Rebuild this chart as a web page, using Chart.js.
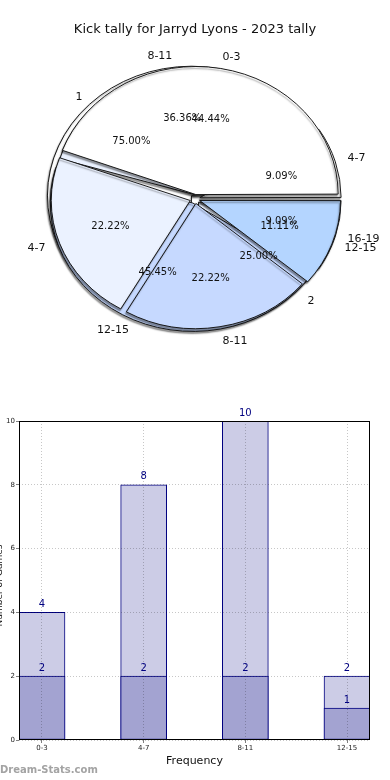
<!DOCTYPE html>
<html><head><meta charset="utf-8">
<script src="https://cdn.jsdelivr.net/npm/chart.js@4.4.0/dist/chart.umd.min.js"></script>
<style>
html,body{margin:0;padding:0;background:#fff;width:390px;height:780px;overflow:hidden;position:relative;font-family:'DejaVu Sans',sans-serif;}
.pie{position:absolute;left:0;top:0;}
#bar{position:absolute;left:0;top:380px;}
#wm{position:absolute;left:0;top:764px;font:bold 10px 'DejaVu Sans';color:#a3a3a3;line-height:12px;}
</style></head><body>
<canvas id="pieC" class="pie" width="390" height="398"></canvas>
<canvas id="pieB" class="pie" width="390" height="398"></canvas>
<canvas id="pieA" class="pie" width="390" height="398"></canvas>
<canvas id="bar" width="390" height="400"></canvas>
<div id="wm">Dream-Stats.com</div>
<script>
const chartTitle = 'Kick tally for Jarryd Lyons - 2023 tally';
const pieLabelsA = ['0-3','4-7','8-11','12-15'];
const pieValuesA = [4,2,2,1];
const pieLabelsB = ['4-7','8-11','12-15','16-19'];
const pieValuesB = [1,4,5,1];
const pieLabelsC = ['1','2'];
const pieValuesC = [3,1];
const sliceColors = ['#ffffff','#ebf2ff','#c6d9ff','#b4d5ff'];
const barCategories = ['0-3','4-7','8-11','12-15'];
const barOuter = [4,8,10,2];
const barInner = [2,2,2,1];
const yTicks = [0,2,4,6,8,10];
const xTitle = 'Frequency';
const yTitle = 'Number of Games';
const SQUASH = 0.9;
const FONT = '"DejaVu Sans"';

const squashPlugin = {
  id:'squash',
  beforeDatasetsDraw(chart){
    const a = chart.getDatasetMeta(0).data[0];
    const ctx = chart.ctx;
    ctx.save();
    ctx.translate(a.x, a.y); ctx.scale(1, SQUASH); ctx.translate(-a.x, -a.y);
    ctx.shadowColor = 'rgba(0,0,0,0.4)';
    ctx.shadowOffsetX = -1; ctx.shadowOffsetY = 2; ctx.shadowBlur = 1.5;
  },
  afterDatasetsDraw(chart){ chart.ctx.restore(); }
};

function makePie(id, labels, values, extra){
  return new Chart(document.getElementById(id), {
    type:'pie',
    data:{labels: labels.slice().reverse(),
      datasets:[{data: values.slice().reverse(),
        backgroundColor: sliceColors.slice(0, values.length).reverse(),
        borderColor:'#111', borderWidth:1, offset:20}]},
    options:{responsive:false, animation:false, events:[], rotation:90, radius:139,
      layout:{padding:0},
      plugins:{legend:{display:false}, tooltip:{enabled:false}, title:{display:false}}},
    plugins: extra ? [squashPlugin, extra] : [squashPlugin]
  });
}

function drawPieLabels(ctx, chart){
  const meta = chart.getDatasetMeta(0);
  const ds = chart.data.datasets[0].data;
  const total = ds.reduce((s,v)=>s+v,0);
  ctx.fillStyle = '#111';
  ctx.textBaseline = 'middle';
  meta.data.forEach((arc,i)=>{
    const mid = (arc.startAngle + arc.endAngle)/2;
    const c = Math.cos(mid), s = Math.sin(mid);
    ctx.font = '10px ' + FONT; ctx.textAlign = 'center';
    ctx.fillText((ds[i]/total*100).toFixed(2)+'%', arc.x + 90*c, arc.y + 90*SQUASH*s);
    ctx.font = '11px ' + FONT; ctx.textAlign = c >= 0 ? 'left' : 'right';
    ctx.fillText(chart.data.labels[i], arc.x + 159*c, arc.y + 160*SQUASH*s);
  });
}

const chartC = makePie('pieC', pieLabelsC, pieValuesC);
const chartB = makePie('pieB', pieLabelsB, pieValuesB);
const labelPlugin = {
  id:'pieLabels',
  afterDraw(chart){
    const ctx = chart.ctx;
    ctx.save();
    ctx.fillStyle = '#111';
    ctx.font = '13px ' + FONT; ctx.textAlign = 'center'; ctx.textBaseline = 'middle';
    ctx.fillText(chartTitle, 195, 30);
    drawPieLabels(ctx, chartC);
    drawPieLabels(ctx, chartB);
    drawPieLabels(ctx, chart);
    ctx.restore();
  }
};
const chartA = makePie('pieA', pieLabelsA, pieValuesA, labelPlugin);

const barDecor = {
  id:'barDecor',
  afterDraw(chart){
    const ctx = chart.ctx, a = chart.chartArea;
    ctx.save();
    ctx.strokeStyle = '#000'; ctx.lineWidth = 1;
    ctx.strokeRect(Math.round(a.left)+0.5, Math.round(a.top)+0.5, Math.round(a.right-a.left)-1, Math.round(a.bottom-a.top)-1);
    ctx.fillStyle = '#000080'; ctx.font = '10px ' + FONT; ctx.textAlign = 'center'; ctx.textBaseline = 'middle';
    chart.data.datasets.forEach((d, di)=>{
      chart.getDatasetMeta(di).data.forEach((el, i)=>{
        ctx.fillText(String(d.data[i].y), el.x, el.y - 8);
      });
    });
    ctx.fillStyle = '#111'; ctx.font = '11px ' + FONT;
    ctx.fillText(xTitle, (a.left + a.right)/2, 381);
    ctx.save();
    ctx.translate(1.5, (a.top + a.bottom)/2 + 5);
    ctx.rotate(-Math.PI/2);
    ctx.font = '9px ' + FONT; ctx.textBaseline = 'alphabetic';
    ctx.fillText(yTitle, 0, 0);
    ctx.restore();
    ctx.restore();
  }
};

const gridOpts = {color:'rgba(0,0,0,0.22)', z:1, offset:false, drawTicks:true, tickLength:3, tickColor:'rgba(0,0,0,0.5)'};
new Chart(document.getElementById('bar'), {
  type:'bar',
  data:{datasets:[
    {data: barInner.map((v,i)=>({x:i, y:v})), backgroundColor:'#a3a3d1', borderColor:'#000080', borderWidth:1, barThickness:46, grouped:false, borderSkipped:false},
    {data: barOuter.map((v,i)=>({x:i, y:v})), backgroundColor:'#ccccE6', borderColor:'#000080', borderWidth:1, barThickness:46, grouped:false, borderSkipped:false}
  ]},
  options:{
    responsive:false, animation:false, events:[],
    layout:{padding:{top:41, right:20, left:0, bottom:0}},
    scales:{
      x:{type:'linear', min:-0.2262, max:3.2262, offset:false,
        afterBuildTicks:s=>{ s.ticks = barCategories.map((c,i)=>({value:i})); },
        afterFit:s=>{ s.height = 40; },
        ticks:{callback:(v)=>barCategories[v], font:{size:7, family:'DejaVu Sans'}, color:'#222', maxRotation:0, autoSkip:false, padding:1},
        grid:gridOpts, border:{display:false, dash:[1,2]}},
      y:{min:0, max:10,
        afterBuildTicks:s=>{ s.ticks = yTicks.map(v=>({value:v})); },
        afterFit:s=>{ s.width = 19; },
        ticks:{font:{size:7, family:'DejaVu Sans'}, color:'#222', padding:1},
        grid:gridOpts, border:{display:false, dash:[1,2]}}
    },
    plugins:{legend:{display:false}, tooltip:{enabled:false}}
  },
  plugins:[barDecor]
});
</script>
</body></html>
